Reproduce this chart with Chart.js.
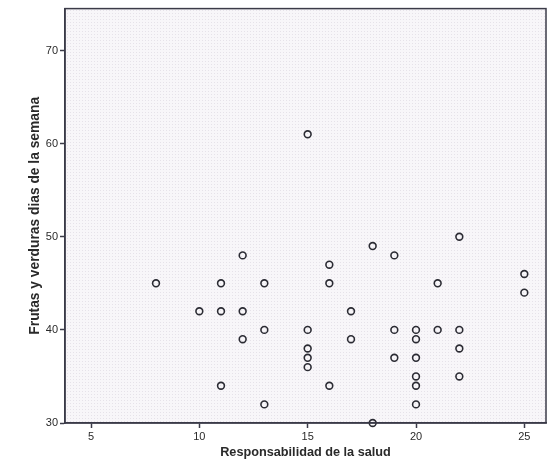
<!DOCTYPE html>
<html>
<head>
<meta charset="utf-8">
<script src="https://cdn.jsdelivr.net/npm/chart.js@4/dist/chart.umd.min.js"></script>
<style>
  html, body { margin: 0; padding: 0; background: #fff; }
  #wrap { width: 560px; height: 472px; }
</style>
</head>
<body>
<div id="wrap"><canvas id="scatter" width="560" height="472"></canvas></div>
<script>
// Responsabilidad de la salud (x) vs. frutas y verduras (y)
const saludValues = [8, 10, 11, 11, 11, 12, 12, 12, 13, 13, 13,
    15, 15, 15, 15, 15, 16, 16, 16, 17, 17, 18, 18,
    19, 19, 19, 20, 20, 20, 20, 20, 20, 21, 21,
    22, 22, 22, 22, 25, 25];
const frutasValues = [45, 42, 45, 42, 34, 48, 42, 39, 45, 40, 32,
    61, 40, 38, 37, 36, 47, 45, 34, 42, 39, 49, 30,
    48, 40, 37, 40, 39, 37, 35, 34, 32, 45, 40,
    50, 40, 38, 35, 46, 44];
const xTicks = [5, 10, 15, 20, 25];
const yTicks = [30, 40, 50, 60, 70];

const points = saludValues.map((x, i) => ({ x: x, y: frutasValues[i] }));

const axisColor = '#3b3b48';
const textColor = '#2a2a2a';

// faint dotted fill behind the points
function makeDotPattern(ctx) {
    const tile = document.createElement('canvas');
    tile.width = 3;
    tile.height = 3;
    const t = tile.getContext('2d');
    t.fillStyle = '#f8f6f9';
    t.fillRect(0, 0, 3, 3);
    t.fillStyle = 'rgba(160, 150, 170, 0.2)';
    t.fillRect(1, 1, 1, 1);
    return ctx.createPattern(tile, 'repeat');
}

const plotFrame = {
    id: 'plotFrame',
    beforeDraw(chart) {
        const { ctx, chartArea: a } = chart;
        ctx.save();
        ctx.fillStyle = makeDotPattern(ctx);
        ctx.fillRect(a.left, a.top, a.right - a.left, a.bottom - a.top);
        ctx.restore();
    },
    afterDatasetsDraw(chart) {
        const { ctx, chartArea: a } = chart;
        ctx.save();
        ctx.strokeStyle = axisColor;
        ctx.lineWidth = 1.5;
        ctx.strokeRect(a.left, a.top, a.right - a.left, a.bottom - a.top);
        ctx.restore();
    }
};

new Chart(document.getElementById('scatter'), {
    type: 'scatter',
    data: {
        datasets: [{
            data: points,
            pointStyle: 'circle',
            pointRadius: 3.4,
            pointBorderWidth: 1.6,
            pointBorderColor: '#2b2b33',
            pointBackgroundColor: 'rgba(0,0,0,0)'
        }]
    },
    options: {
        responsive: false,
        animation: false,
        clip: false,
        layout: { padding: { top: 8, right: 14, left: 0, bottom: 0 } },
        plugins: {
            legend: { display: false },
            tooltip: { enabled: false }
        },
        scales: {
            x: {
                type: 'linear',
                min: 3.8,
                max: 26,
                afterBuildTicks: (s) => { s.ticks = xTicks.map(v => ({ value: v })); },
                afterFit: (s) => { s.height = 49; },
                grid: { drawOnChartArea: false, color: axisColor, tickLength: 5, tickWidth: 1.5 },
                border: { color: axisColor, width: 1.5 },
                ticks: { color: textColor, padding: 2, font: { family: 'Liberation Sans', size: 11 } },
                title: {
                    display: true,
                    text: 'Responsabilidad de la salud',
                    color: textColor,
                    padding: { top: 0, bottom: 12 },
                    font: { family: 'Liberation Sans', size: 12.7, weight: 'bold' }
                }
            },
            y: {
                type: 'linear',
                min: 30,
                max: 74.5,
                afterBuildTicks: (s) => { s.ticks = yTicks.map(v => ({ value: v })); },
                afterFit: (s) => { s.width = 65; },
                grid: { drawOnChartArea: false, color: axisColor, tickLength: 5, tickWidth: 1.5 },
                border: { color: axisColor, width: 1.5 },
                ticks: { color: textColor, padding: 2, font: { family: 'Liberation Sans', size: 11 } },
                title: {
                    display: true,
                    text: 'Frutas y verduras dias de la semana',
                    color: textColor,
                    padding: { top: 27, bottom: 0 },
                    font: { family: 'Liberation Sans', size: 13.8, weight: 'bold' }
                }
            }
        }
    },
    plugins: [plotFrame]
});
</script>
</body>
</html>
